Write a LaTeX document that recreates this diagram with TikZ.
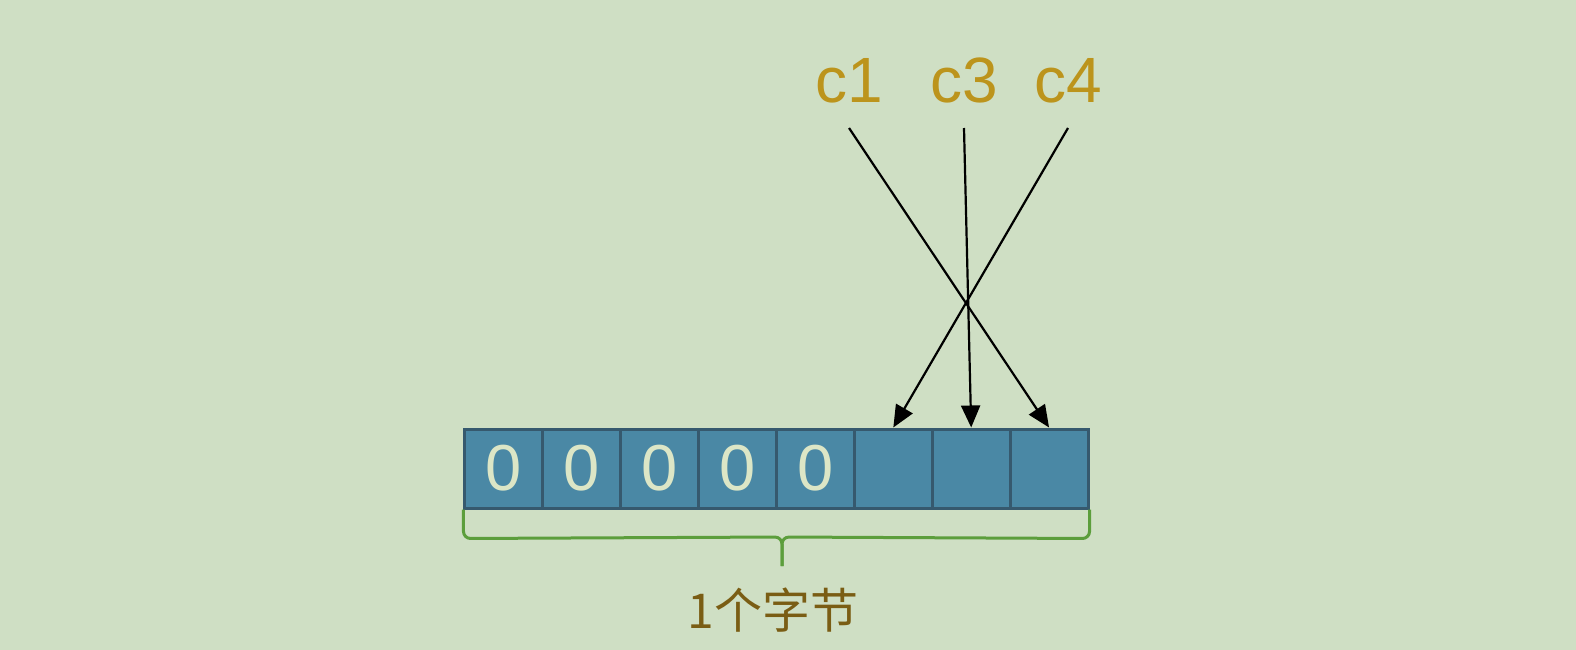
\documentclass[tikz,border=0pt]{standalone}
\usepackage{fontspec}
\setmainfont{Liberation Sans}
\newfontfamily\cjk{Noto Sans CJK SC}
\usetikzlibrary{arrows.meta}
\definecolor{bgcol}{HTML}{CFDFC4}
\definecolor{cellfill}{HTML}{4A88A5}
\definecolor{celledge}{HTML}{36596E}
\definecolor{zerocol}{HTML}{DCE6C6}
\definecolor{labelcol}{HTML}{BC941C}
\definecolor{bracecol}{HTML}{5C9E3C}
\definecolor{bytecol}{HTML}{7A5D14}
\tikzset{
  cell/.style={draw=celledge, fill=cellfill, line width=3pt,
    minimum width=77.9pt, minimum height=79pt, inner sep=0pt,
    text=zerocol, font=\fontsize{65}{65}\selectfont},
  ptr/.style={text=labelcol, font=\fontsize{64}{64}\selectfont,
    anchor=base, inner sep=0pt, outer sep=0pt, text depth=25pt},
  arr/.style={line width=2.2pt,
    -{Triangle[length=22pt,width=19pt]}}
}
\begin{document}
\begin{tikzpicture}[x=1pt,y=-1pt]
  \fill[bgcol] (0,0) rectangle (1576,650);
  \useasboundingbox (0,0) rectangle (1576,650);
  % the byte
  \foreach \i in {1,...,8} {
    \ifnum\i<6
      \node[cell] (b\i) at ({465+77.875*(\i-0.5)},468.5) {0};
    \else
      \node[cell] (b\i) at ({465+77.875*(\i-0.5)},468.5) {};
    \fi
  }
  \draw
    (849,103) node[ptr] (c1){c1}
    (964,103) node[ptr] (c3){c3}
    (1068,103) node[ptr] (c4){c4};
  \begin{scope}[arr]
    \draw (c1.south) to (b8.north);
    \draw (c3.south) to (b7.north);
    \draw (c4.south) to (b6.north);
  \end{scope}
  % brace
  \coordinate (tip) at (782,566);
  \begin{scope}[draw=bracecol, line width=3pt, rounded corners=7pt]
    \draw (b1.south west) -- ++(0,29) -- (782,537) -- (tip);
    \draw (b8.south east) -- ++(0,29) -- (782,537) -- (tip);
  \end{scope}
  \node[text=bytecol, font=\cjk\fontsize{48}{48}\selectfont] (byte) at (773,610) {1个字节};
\end{tikzpicture}
\end{document}
